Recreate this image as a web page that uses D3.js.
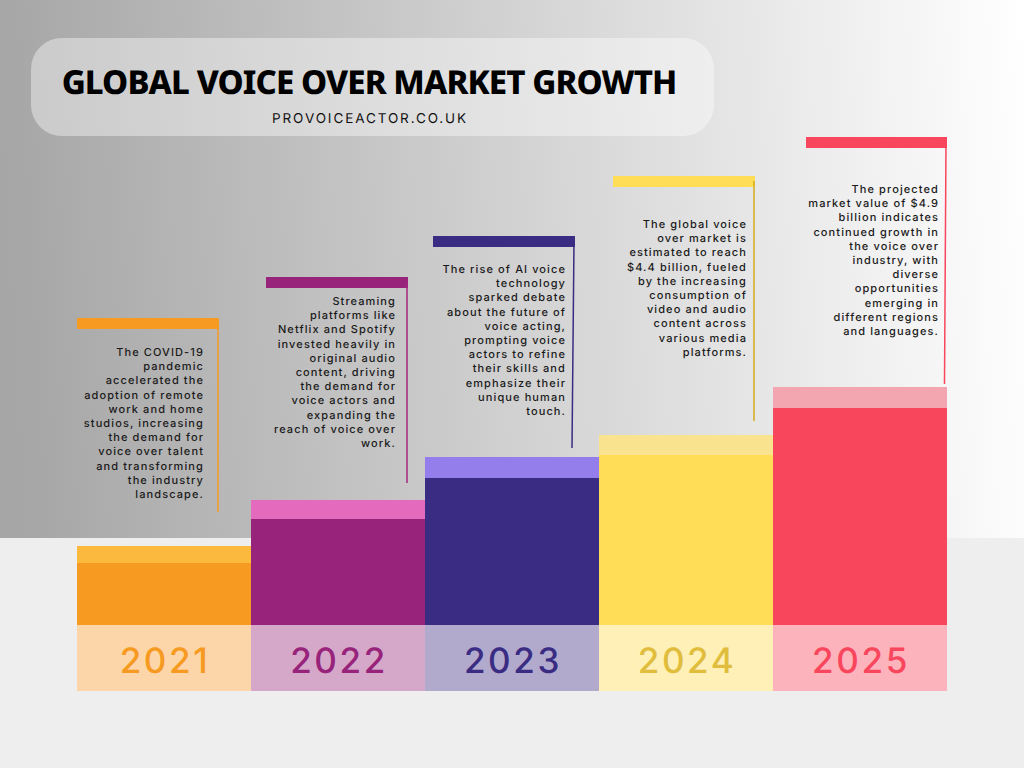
<!DOCTYPE html>
<html>
<head>
<meta charset="utf-8">
<style>
html, body { margin: 0; padding: 0; background: #eeeeee; }
svg { display: block; text-rendering: geometricPrecision; }
</style>
<script src="https://cdn.jsdelivr.net/npm/d3@7"></script>
</head>
<body>
<div id="chart"></div>
<script>
// the chart has no value axis so these are bar heights in chart units
const years = ['2021', '2022', '2023', '2024', '2025'];
const barTotals = [79, 125, 168, 190, 238];
const barMains = [62, 106, 147, 170, 217];

const notes = [
    ['The COVID-19', 'pandemic', 'accelerated the', 'adoption of remote', 'work and home', 'studios, increasing', 'the demand for', 'voice over talent', 'and transforming', 'the industry', 'landscape.'],
    ['Streaming', 'platforms like', 'Netflix and Spotify', 'invested heavily in', 'original audio', 'content, driving', 'the demand for', 'voice actors and', 'expanding the', 'reach of voice over', 'work.'],
    ['The rise of AI voice', 'technology', 'sparked debate', 'about the future of', 'voice acting,', 'prompting voice', 'actors to refine', 'their skills and', 'emphasize their', 'unique human', 'touch.'],
    ['The global voice', 'over market is', 'estimated to reach', '$4.4 billion, fueled', 'by the increasing', 'consumption of', 'video and audio', 'content across', 'various media', 'platforms.'],
    ['The projected', 'market value of $4.9', 'billion indicates', 'continued growth in', 'the voice over', 'industry, with', 'diverse', 'opportunities', 'emerging in', 'different regions', 'and languages.']
];

const mainColors = ['#f79a21', '#98237a', '#3b2c83', '#ffdd57', '#f8465c'];
const capColors = ['#fbb93d', '#e36abd', '#937eec', '#f9e38f', '#f3a6b0'];
const labelBgColors = ['#fcd6a8', '#d5a8ca', '#b1aacd', '#fff0b8', '#fdb3bc'];
const labelColors = ['#f79a21', '#98237a', '#3b2c83', '#e0bd3c', '#f8465c'];
const lineColors = ['#f79a21', '#a5267f', '#3b2c83', '#d3ab1c', '#f8465c'];

// callout placement, px
const calloutLeft = [77, 266, 433, 613, 806];
const calloutRight = [219, 408, 575, 755, 947];
const calloutTop = [318, 277, 236, 176, 137];
const lineBottom = [512, 483, 448, 421, 384];
const noteRight = [204, 396, 566, 747, 939];
const noteFirstLine = [356, 305, 273, 228, 193];

const width = 1024;
const height = 768;
const baseY = 625;
const bodyFont = 'Inter';

const svg = d3.select('#chart')
    .append('svg')
    .attr('width', width)
    .attr('height', height)
    .attr('viewBox', [0, 0, width, height]);

const defs = svg.append('defs');
const bgGrad = defs.append('linearGradient')
    .attr('id', 'bgGrad')
    .attr('gradientUnits', 'userSpaceOnUse')
    .attr('x1', 0).attr('y1', 60)
    .attr('x2', 1024).attr('y2', 0);
bgGrad.append('stop').attr('offset', '0%').attr('stop-color', '#a6a6a6');
bgGrad.append('stop').attr('offset', '100%').attr('stop-color', '#ffffff');

svg.append('rect').attr('width', width).attr('height', height).attr('fill', '#eeeeee');
svg.append('rect').attr('width', width).attr('height', 538).attr('fill', 'url(#bgGrad)');

// title pill
svg.append('rect')
    .attr('x', 31).attr('y', 38)
    .attr('width', 683).attr('height', 98)
    .attr('rx', 31)
    .attr('fill', '#ffffff')
    .attr('fill-opacity', 0.4);

svg.append('text')
    .text('GLOBAL VOICE OVER MARKET GROWTH')
    .attr('x', 369).attr('y', 94)
    .attr('text-anchor', 'middle')
    .attr('font-family', '"Noto Sans"')
    .attr('font-weight', 800)
    .attr('font-size', 33)
    .attr('letter-spacing', -0.9)
    .attr('fill', '#000000');

svg.append('text')
    .text('PROVOICEACTOR.CO.UK')
    .attr('x', 370).attr('y', 123)
    .attr('text-anchor', 'middle')
    .attr('font-family', bodyFont)
    .attr('font-size', 13.5)
    .attr('letter-spacing', 1.9)
    .attr('fill', '#111111');

const x = d3.scaleBand()
    .domain(years)
    .range([77, 947])
    .padding(0);

const y = d3.scaleLinear()
    .domain([0, 238])
    .range([baseY, 387]);

const rows = years.map((year, i) => ({ year, i, total: barTotals[i], main: barMains[i] }));

const bars = svg.append('g').selectAll('g').data(rows).join('g');

bars.append('rect')
    .attr('x', d => x(d.year))
    .attr('y', d => y(d.total))
    .attr('width', x.bandwidth())
    .attr('height', d => y(d.main) - y(d.total))
    .attr('fill', d => capColors[d.i]);

bars.append('rect')
    .attr('x', d => x(d.year))
    .attr('y', d => y(d.main))
    .attr('width', x.bandwidth())
    .attr('height', d => y(0) - y(d.main))
    .attr('fill', d => mainColors[d.i]);

bars.append('rect')
    .attr('x', d => x(d.year))
    .attr('y', baseY)
    .attr('width', x.bandwidth())
    .attr('height', 66)
    .attr('fill', d => labelBgColors[d.i]);

bars.append('text')
    .text(d => d.year)
    .attr('x', d => x(d.year) + x.bandwidth() / 2 + 1)
    .attr('y', 673)
    .attr('text-anchor', 'middle')
    .attr('font-family', bodyFont)
    .attr('font-weight', 500)
    .attr('font-size', 35)
    .attr('letter-spacing', 2.6)
    .attr('fill', d => labelColors[d.i]);

// callouts above the bars
const callouts = svg.append('g').selectAll('g').data(rows).join('g');

callouts.append('rect')
    .attr('x', d => calloutLeft[d.i])
    .attr('y', d => calloutTop[d.i])
    .attr('width', d => calloutRight[d.i] - calloutLeft[d.i])
    .attr('height', 11)
    .attr('fill', d => mainColors[d.i]);

callouts.append('line')
    .attr('x1', d => calloutRight[d.i] - 1)
    .attr('y1', d => calloutTop[d.i] + 5)
    .attr('x2', d => calloutRight[d.i] - (d.i === 2 ? 3 : d.i === 4 ? 2.5 : 1))
    .attr('y2', d => lineBottom[d.i])
    .attr('stroke', d => lineColors[d.i])
    .attr('stroke-width', 1.5);

callouts.append('text')
    .attr('text-anchor', 'end')
    .attr('font-family', bodyFont)
    .attr('font-weight', 500)
    .attr('font-size', 11)
    .attr('letter-spacing', 1.1)
    .attr('fill', '#1a1a1a')
    .selectAll('tspan')
    .data(d => notes[d.i].map((line, n) => ({ line, n, i: d.i })))
    .join('tspan')
    .attr('x', d => noteRight[d.i])
    .attr('y', d => noteFirstLine[d.i] + d.n * 14.2)
    .text(d => d.line);
</script>
</body>
</html>
